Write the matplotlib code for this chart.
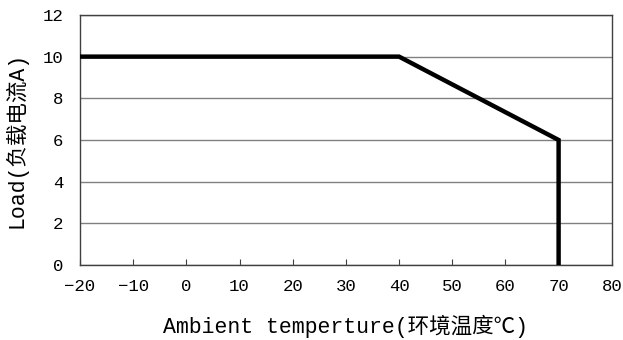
import matplotlib
matplotlib.use("Agg")
import matplotlib.pyplot as plt

# derating curve: ambient temperature (°C) vs load current (A)
temps = [-20, 40, 70, 70]
loads = [10, 10, 6, 0]

x_ticks = [-20, -10, 0, 10, 20, 30, 40, 50, 60, 70, 80]
y_ticks = [0, 2, 4, 6, 8, 10, 12]

FONTS = ["Liberation Mono", "Noto Sans CJK SC", "DejaVu Sans"]
plt.rcParams["font.family"] = FONTS

fig = plt.figure(figsize=(6.23, 3.40), dpi=100)
ax = fig.add_axes([0.1284, 0.2206, 0.8536, 0.7354])

ax.plot(temps, loads, color="black", linewidth=3.2, solid_joinstyle="miter",
        zorder=3)

ax.set_xlim(x_ticks[0], x_ticks[-1])
ax.set_ylim(y_ticks[0], y_ticks[-1])
ax.set_xticks(x_ticks)
ax.set_yticks(y_ticks)
ax.set_xticklabels([str(t).replace("-", "\u2212") for t in x_ticks])
ax.yaxis.grid(True, color="#808080", linewidth=1.0)
ax.set_axisbelow(True)

ax.tick_params(axis="x", direction="in", length=4, width=0.8, pad=10,
               labelsize=12.5, color="#404040")
ax.tick_params(axis="y", length=0, pad=12, labelsize=12.5)
for s in ax.spines.values():
    s.set_color("#404040")
    s.set_linewidth(1.0)

ax.set_xlabel("Ambient temperture(环境温度℃)", fontsize=15.5, labelpad=15)
ax.set_ylabel("Load(负载电流A)", fontsize=15.5, labelpad=11)

fig.savefig("out.png", dpi=100)
